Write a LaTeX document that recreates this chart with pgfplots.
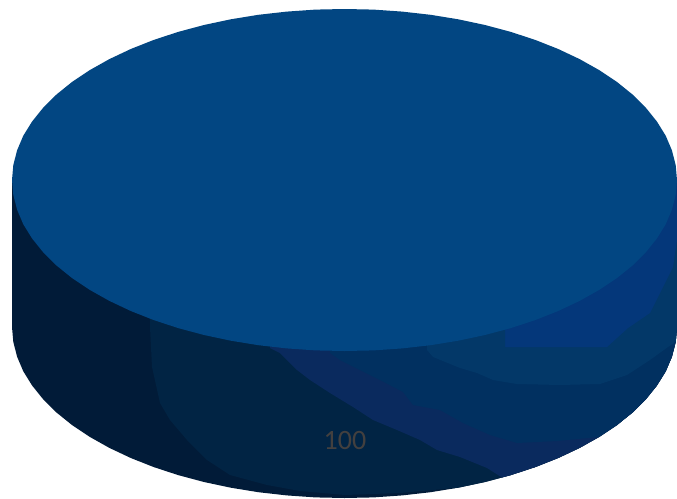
\documentclass[border=0pt]{standalone}
\usepackage{pgfplots}
\usepackage{pgfplotstable}
\usepackage{fontspec}
\setmainfont{Carlito}
\pgfplotsset{compat=1.18}
\definecolor{pieTop}{HTML}{024682}
\definecolor{sideA}{HTML}{04377A}
\definecolor{sideB}{HTML}{033868}
\definecolor{sideC}{HTML}{013060}
\definecolor{sideD}{HTML}{0A2A5E}
\definecolor{sideE}{HTML}{012444}
\definecolor{sideF}{HTML}{011B38}
\definecolor{labelGrey}{HTML}{43403F}
% top face of the pie, in pixels of the reference
\pgfplotstableread{
x y
677 180
675.7 194.9
671.9 209.7
665.7 224.3
656.9 238.5
645.8 252.3
632.5 265.5
616.9 278.1
599.2 289.9
579.6 300.9
558.2 311
535.2 320.1
510.8 328.1
485 335
458.2 340.7
430.6 345.2
402.2 348.4
373.5 350.4
344.5 351
315.5 350.4
286.8 348.4
258.4 345.2
230.8 340.7
204 335
178.2 328.1
153.8 320.1
130.8 311
109.4 300.9
89.8 289.9
72.1 278.1
56.5 265.5
43.2 252.3
32.1 238.5
23.3 224.3
17.1 209.7
13.3 194.9
12 180
13.3 165.1
17.1 150.3
23.3 135.7
32.1 121.5
43.2 107.7
56.5 94.5
72.1 81.9
89.8 70.1
109.4 59.1
130.8 49
153.8 39.9
178.2 31.9
204 25
230.8 19.3
258.4 14.8
286.8 11.6
315.5 9.6
344.5 9
373.5 9.6
402.2 11.6
430.6 14.8
458.2 19.3
485 25
510.8 31.9
535.2 39.9
558.2 49
579.6 59.1
599.2 70.1
616.9 81.9
632.5 94.5
645.8 107.7
656.9 121.5
665.7 135.7
671.9 150.3
675.7 165.1
}\toptable
\begin{document}
\begin{tikzpicture}
\begin{axis}[
    scale only axis,
    width=677pt,
    height=498pt,
    xmin=0, xmax=677,
    ymin=0, ymax=498,
    y dir=reverse,
    hide axis,
  ]
  \addplot[draw=none, fill=white] coordinates {(0,0) (677,0) (677,498) (0,498)} -- cycle;
  % whole side wall
  \addplot[draw=none, fill=sideF] coordinates {
    (12,180) (12,327) (13.3,341.9) (17.1,356.7) (23.3,371.3) (32.1,385.5) (43.2,399.3)
    (56.5,412.5) (72.1,425.1) (89.8,436.9) (109.4,447.9) (130.8,458) (153.8,467.1)
    (178.2,475.1) (204,482) (230.8,487.7) (258.4,492.2) (286.8,495.4) (315.5,497.4)
    (344.5,498) (373.5,497.4) (402.2,495.4) (430.6,492.2) (458.2,487.7) (485,482)
    (510.8,475.1) (535.2,467.1) (558.2,458) (579.6,447.9) (599.2,436.9) (616.9,425.1)
    (632.5,412.5) (645.8,399.3) (656.9,385.5) (665.7,371.3) (671.9,356.7) (675.7,341.9)
    (677,327) (677,180)} -- cycle;
  % shading bands of the wall
  \addplot[draw=none, fill=sideE] coordinates {
    (150,180) (150,327) (152,367) (160,403) (170,420) (187,440) (207,460) (230,475)
    (267,485) (300,491) (345,495) (400,493) (458.2,487.7) (485,482)
    (510.8,475.1) (535.2,467.1) (558.2,458) (579.6,447.9) (599.2,436.9) (616.9,425.1)
    (632.5,412.5) (645.8,399.3) (656.9,385.5) (665.7,371.3) (671.9,356.7) (675.7,341.9)
    (677,327) (677,180)} -- cycle;
  \addplot[draw=none, fill=sideD] coordinates {
    (270,180) (270,348) (280,353) (297,370) (310,380) (330,393) (353,407) (373,420)
    (397,430) (420,440) (437,450) (460,457) (487,468) (502,477.5)
    (510.8,475.1) (535.2,467.1) (558.2,458) (579.6,447.9) (599.2,436.9) (616.9,425.1)
    (632.5,412.5) (645.8,399.3) (656.9,385.5) (665.7,371.3) (671.9,356.7) (675.7,341.9)
    (677,327) (677,180)} -- cycle;
  \addplot[draw=none, fill=sideC] coordinates {
    (330,180) (330,353) (340,360) (360,370) (380,380) (403,392) (413,405) (440,410)
    (463,423) (490,435) (517,443) (557,441) (599.2,436.9) (616.9,425.1)
    (632.5,412.5) (645.8,399.3) (656.9,385.5) (665.7,371.3) (671.9,356.7) (675.7,341.9)
    (677,327) (677,180)} -- cycle;
  \addplot[draw=none, fill=sideB] coordinates {
    (427,180) (427,350) (433,357) (460,368) (477,373) (493,380) (517,384) (560,385) (600,384)
    (627,375) (650,360) (668,347) (675.7,341.9) (677,327) (677,180)} -- cycle;
  \addplot[draw=none, fill=sideA] coordinates {
    (430,180) (430,347) (505,347) (607,347) (628,328) (650,313) (660,293) (673,267)
    (677,240) (677,180)} -- cycle;
  \addplot[draw=none, fill=sideB] coordinates {
    (430,340) (430,350) (505,350) (505,330)} -- cycle;
  % top face
  \addplot[draw=none, fill=pieTop] table[x=x, y=y] {\toptable} -- cycle;
  \node[text=labelGrey, font=\fontsize{28}{30}\selectfont] at (axis cs:345,441) {100};
\end{axis}
\end{tikzpicture}
\end{document}
